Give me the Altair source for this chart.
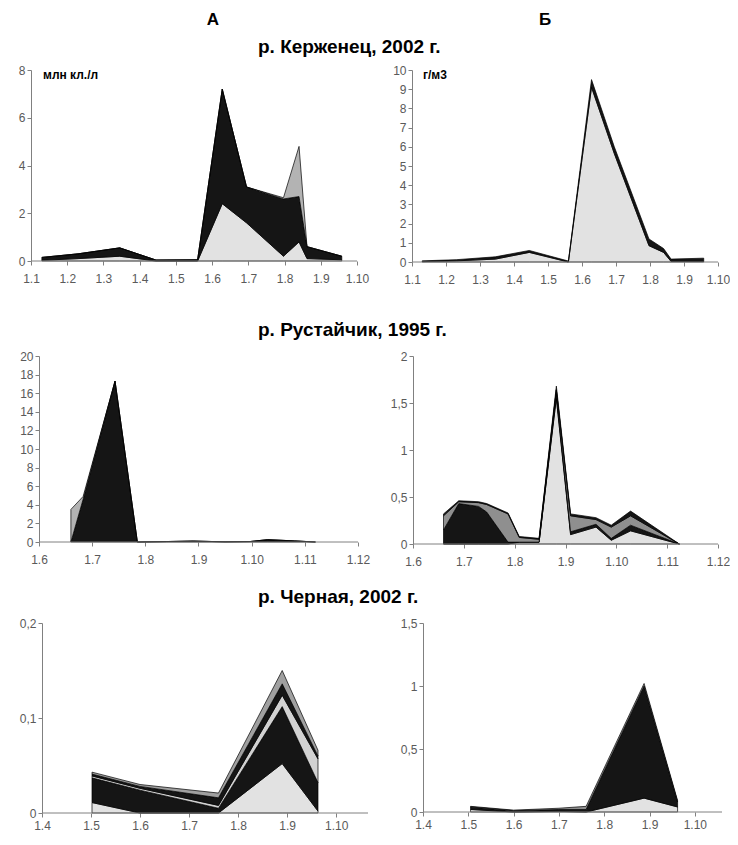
import altair as alt
import pandas as pd

FONT = "Liberation Sans"

# ---------------- text ----------------
col_titles = ["А", "Б"]
river_titles = ["р. Керженец, 2002 г.", "р. Рустайчик, 1995 г.", "р. Черная, 2002 г."]
unit_labels = ["млн кл./л", "г/м3"]

# ---------------- data ----------------
# x = month number (tick "1.N" = 1st day of month N)
k_dates = [1.3, 2.3, 3.45, 4.45, 5.6, 6.28, 6.95, 7.97, 8.4, 8.62, 9.58]
kA_light = [0.03, 0.10, 0.20, 0.00, 0.00, 2.40, 1.60, 0.20, 0.80, 0.10, 0.05]
kA_black = [0.12, 0.20, 0.35, 0.04, 0.05, 4.80, 1.50, 2.40, 1.90, 0.50, 0.15]
kA_gray = [0.00, 0.00, 0.00, 0.00, 0.00, 0.00, 0.00, 0.05, 2.10, 0.00, 0.00]

kB_light = [0.02, 0.06, 0.15, 0.50, 0.00, 9.10, 5.65, 0.85, 0.50, 0.03, 0.03]
kB_black = [0.04, 0.06, 0.12, 0.10, 0.05, 0.40, 0.35, 0.35, 0.20, 0.12, 0.17]

rA_dates = [6.6, 6.83, 7.43, 7.85, 8.4, 8.9, 9.5, 9.97, 10.3, 10.8, 11.2]
rA_black = [0.0, 4.6, 17.3, 0.0, 0.05, 0.10, 0.02, 0.05, 0.25, 0.12, 0.0]
rA_gray = [3.5, 0.3, 0.0, 0.0, 0.0, 0.0, 0.0, 0.0, 0.0, 0.0, 0.0]

rB_dates = [6.6, 6.9, 7.29, 7.45, 7.87, 8.09, 8.48, 8.82, 9.1, 9.6, 9.9, 10.28, 11.24]
rB_light = [0.00, 0.00, 0.00, 0.00, 0.00, 0.02, 0.02, 1.55, 0.10, 0.18, 0.04, 0.14, 0.0]
rB_black = [0.15, 0.43, 0.40, 0.34, 0.02, 0.00, 0.00, 0.05, 0.03, 0.03, 0.02, 0.06, 0.0]
rB_stripe = [0.15, 0.02, 0.04, 0.08, 0.30, 0.05, 0.03, 0.04, 0.17, 0.05, 0.12, 0.10, 0.0]
rB_top = [0.02, 0.01, 0.01, 0.01, 0.01, 0.01, 0.01, 0.04, 0.02, 0.02, 0.02, 0.05, 0.0]

cA_dates = [5.02, 6.0, 7.6, 8.9, 9.63]
cA_light = [0.011, 0.000, 0.000, 0.052, 0.002]
cA_black = [0.026, 0.024, 0.005, 0.060, 0.030]
cA_pale = [0.002, 0.002, 0.003, 0.012, 0.025]
cA_black2 = [0.002, 0.002, 0.008, 0.012, 0.003]
cA_gray = [0.002, 0.002, 0.005, 0.014, 0.006]

cB_dates = [5.05, 6.0, 7.0, 7.6, 8.88, 9.62]
cB_light = [0.020, 0.000, 0.005, 0.000, 0.110, 0.040]
cB_black = [0.020, 0.010, 0.015, 0.020, 0.890, 0.040]
cB_stripe = [0.005, 0.005, 0.010, 0.025, 0.020, 0.010]

SERIES = ["light", "black", "gray", "stripe", "pale", "black2", "top", "gray2"]
COLORS = ["#e2e2e2", "#151515", "#b3b3b3", "#8f8f8f", "#d2d2d2", "#151515", "#151515", "#a0a0a0"]
AXIS_GRAY = "#808080"


def panel(dates, layers, xdom, axis_x, xticks, ydom, yticks, w, h, ext, yoff,
          texts, spacer=None, xpad=8):
    rows = []
    for k, (name, vals) in enumerate(layers):
        for d, v in zip(dates, vals):
            rows.append({"date": d, "value": v, "series": name, "k": k})
    df = pd.DataFrame(rows)
    xscale = alt.Scale(domain=xdom, nice=False, zero=False)
    yscale = alt.Scale(domain=ydom, nice=False)
    xaxis = alt.Axis(values=xticks, labelExpr="'1.' + datum.value", title=None,
                     domain=False, labelFlush=False, labelOverlap=False,
                     labelPadding=xpad, tickSize=4)
    yaxis = alt.Axis(values=yticks, title=None, minExtent=ext, offset=yoff,
                     labelExpr="replace(format(datum.value, '~g'), '.', ',')",
                     labelPadding=2, tickSize=4, labelFlush=False, labelOverlap=False)
    area = alt.Chart(df).mark_area(stroke="black", strokeWidth=0.7, strokeJoin="round").encode(
        x=alt.X("date:Q", scale=xscale, axis=xaxis),
        y=alt.Y("value:Q", stack="zero", scale=yscale, axis=yaxis),
        color=alt.Color("series:N", scale=alt.Scale(domain=SERIES, range=COLORS), legend=None),
        order=alt.Order("k:Q"),
    )
    base = alt.Chart(pd.DataFrame({"date": [axis_x[0]], "date2": [axis_x[1]], "value": [0]})).mark_rule(
        color=AXIS_GRAY, strokeWidth=1
    ).encode(x=alt.X("date:Q", scale=xscale, axis=xaxis), x2="date2:Q",
             y=alt.Y("value:Q", scale=yscale, axis=yaxis))
    lay = [area, base]
    for (txt, x, y, size, align, baseline) in texts:
        lay.append(
            alt.Chart(pd.DataFrame({"t": [txt]})).mark_text(
                align=align, baseline=baseline, fontSize=size, fontWeight="bold",
                font=FONT, color="black"
            ).encode(text="t:N", x=alt.value(x), y=alt.value(y))
        )
    if spacer is not None:
        lay.append(
            alt.Chart(pd.DataFrame({"s": [0]})).mark_rule(color="white", strokeOpacity=0, opacity=0)
            .encode(x=alt.value(0), x2=alt.value(1), y=alt.value(-spacer))
        )
    return alt.layer(*lay).properties(width=w, height=h)


TS = 19
p1 = panel(k_dates, [("light", kA_light), ("black", kA_black), ("gray", kA_gray)],
           [1, 10], [1, 10], list(range(1, 11)), [0, 8], [0, 2, 4, 6, 8], 326, 191, 23, 0,
           [(col_titles[0], 182, -45, 17, "center", "alphabetic"),
            (river_titles[0], 227, -17, TS, "left", "alphabetic"),
            (unit_labels[0], 12, 5, 12, "left", "middle")], spacer=62)
p2 = panel(k_dates, [("light", kB_light), ("top", kB_black)],
           [1, 10], [1, 10], list(range(1, 11)), [0, 10], list(range(0, 11)), 306, 192, 0, 0,
           [(col_titles[1], 133, -45, 17, "center", "alphabetic"),
            (unit_labels[1], 11, 5, 12, "left", "middle")])
p3 = panel(rA_dates, [("black", rA_black), ("gray", rA_gray)],
           [6 - 8 / 53.17, 12], [6, 12], list(range(6, 13)), [0, 20], list(range(0, 21, 2)),
           327, 186, 31, -8,
           [(river_titles[1], 227, -20, TS, "left", "alphabetic")], spacer=71)
p4 = panel(rB_dates, [("light", rB_light), ("black", rB_black), ("stripe", rB_stripe), ("top", rB_top)],
           [6, 12], [6, 12], list(range(6, 13)), [0, 2], [0, 0.5, 1, 1.5, 2], 305, 188, 0, 0, [])
p5 = panel(cA_dates, [("light", cA_light), ("black", cA_black), ("pale", cA_pale),
                      ("black2", cA_black2), ("gray2", cA_gray)],
           [4 - 11 / 49.02, 10.65], [4, 10.65], list(range(4, 11)), [0, 0.2], [0, 0.1, 0.2],
           337, 190, 34, -11,
           [(river_titles[2], 227, -20, TS, "left", "alphabetic")], spacer=56, xpad=3)
p6 = panel(cB_dates, [("light", cB_light), ("black", cB_black), ("stripe", cB_stripe)],
           [4, 10.6], [4, 10.6], list(range(4, 11)), [0, 1.5], [0, 0.5, 1, 1.5], 299, 189, 0, 0, [],
           xpad=3)

row1 = alt.hconcat(p1, p2, spacing=55, bounds="flush")
row2 = alt.hconcat(p3, p4, spacing=55, bounds="flush")
row3 = alt.hconcat(p5, p6, spacing=55, bounds="flush")

chart = alt.vconcat(row1, row2, row3, spacing=0).properties(
    padding=0, background="white"
).configure_view(strokeWidth=0, stroke="transparent").configure_axis(
    grid=False, domainColor=AXIS_GRAY, tickColor=AXIS_GRAY, labelColor="#5a5a5a",
    labelFont=FONT, labelFontSize=12, domainWidth=1, tickWidth=1
).configure_text(font=FONT)

chart.save("out.html", embed_options={"renderer": "svg", "actions": False})
